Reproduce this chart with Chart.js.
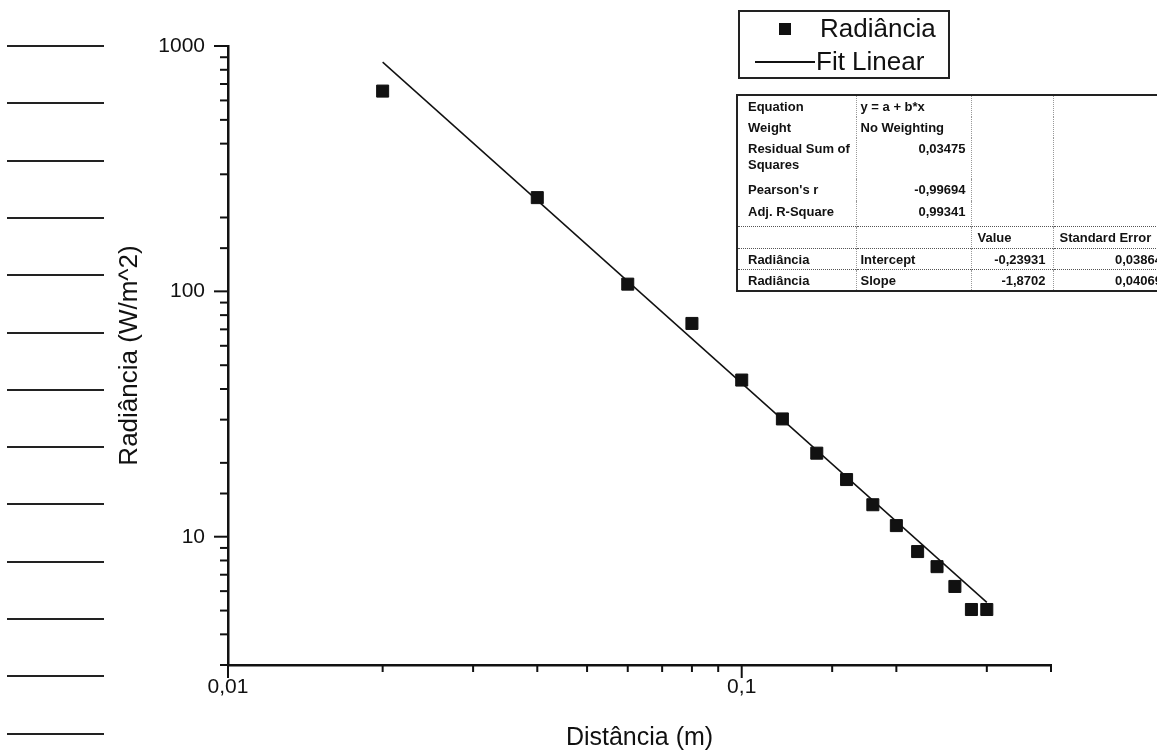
<!DOCTYPE html>
<html lang="pt">
<head>
  <meta charset="UTF-8" />
  <title>Radiância x Distância</title>
  <script src="https://cdn.jsdelivr.net/npm/chart.js"></script>
  <style>
    body {
      margin: 0;
      background: #fff;
      font-family: "Liberation Sans", Arial, sans-serif;
      overflow: hidden;
    }
    .page {
      position: relative;
      width: 1157px;
      height: 754px;
      overflow: hidden;
    }
    canvas {
      position: absolute;
      left: 0;
      top: 0;
    }
    /* ruled lines of the notebook page */
    .ruling {
      position: absolute;
      left: 7px;
      top: 45px;
      width: 97px;
      height: 700px;
      background: repeating-linear-gradient(to bottom, #222 0 2px, transparent 2px 57.3px);
    }
    .legend {
      position: absolute;
      left: 738px;
      top: 10px;
      width: 208px;
      height: 65px;
      border: 2px solid #222;
      color: #111;
      font-size: 26px;
    }
    .legend .row {
      position: absolute;
      left: 0;
      height: 30px;
      line-height: 30px;
      white-space: nowrap;
    }
    .legend .mark {
      position: absolute;
      width: 12px;
      height: 12px;
      background: #111;
    }
    .legend .line {
      position: absolute;
      height: 1.5px;
      background: #111;
    }
    .stats {
      position: absolute;
      left: 736px;
      top: 94px;
      width: 446px;
      min-width: 446px;
      border-collapse: collapse;
      border: 2px solid #222;
      font-size: 13px;
      font-weight: bold;
      color: #111;
      table-layout: fixed;
    }
    .stats td {
      padding: 3px 4px 0 4px;
      line-height: 16px;
      vertical-align: top;
      white-space: nowrap;
      overflow: hidden;
    }
    .stats td + td { border-left: 1px dotted #999; }
    .stats tr.sep td { border-top: 1px dotted #555; }
    .stats td.c1 { padding-left: 10px; }
    .stats td.num { text-align: right; }
  </style>
</head>
<body>
  <div class="page">
    <div class="ruling"></div>
    <canvas id="radChart" width="1157" height="754"></canvas>
    <div class="legend" id="legend"></div>
    <table class="stats" id="stats">
      <colgroup>
        <col style="width:119px"><col style="width:115px"><col style="width:82px"><col style="width:130px">
      </colgroup>
    </table>
  </div>

  <script>
    const distance = [0.02, 0.04, 0.06, 0.08, 0.10, 0.12, 0.14, 0.16, 0.18, 0.20, 0.22, 0.24, 0.26, 0.28, 0.30];
    const radiance = [655, 241, 107, 74, 43.5, 30.2, 21.9, 17.1, 13.5, 11.1, 8.7, 7.55, 6.27, 5.05, 5.05];

    // fit line end points
    const fitX = [0.02, 0.30];
    const fitY = [860, 5.4];

    const xTickVals = [0.01, 0.1];
    const xTickLabels = ['0,01', '0,1'];
    const yTickVals = [10, 100, 1000];
    const yTickLabels = ['10', '100', '1000'];

    const seriesNames = ['Radiância', 'Fit Linear'];

    // fit report table
    const statRows = [
      ['Equation', 'y = a + b*x', '', ''],
      ['Weight', 'No Weighting', '', ''],
      ['Residual Sum of<br>Squares', '0,03475', '', ''],
      ["Pearson's r", '-0,99694', '', ''],
      ['Adj. R-Square', '0,99341', '', ''],
      ['', '', 'Value', 'Standard Error'],
      ['Radiância', 'Intercept', '-0,23931', '0,03864'],
      ['Radiância', 'Slope', '-1,8702', '0,04069']
    ];
    const rowHeights = [22, 21, 41, 22, 25, 22, 21, 22];

    const findLabel = (v, vals, labels) => {
      const i = vals.findIndex(t => Math.abs(v - t) / t < 1e-6);
      return i < 0 ? '' : labels[i];
    };

    // table
    const table = document.getElementById('stats');
    statRows.forEach((row, r) => {
      const tr = document.createElement('tr');
      tr.style.height = rowHeights[r] + 'px';
      if (r >= 5) tr.className = 'sep';
      row.forEach((cell, c) => {
        const td = document.createElement('td');
        td.innerHTML = cell;
        if (c === 0) td.className = 'c1';
        const isNum = /^-?\d/.test(cell);
        if (isNum) td.classList.add('num');
        if (c === 1 && isNum) td.style.paddingRight = '5px';
        if (c === 2) td.style.paddingLeft = isNum ? '4px' : '6px';
        if (c === 2 && isNum) td.style.paddingRight = '7px';
        if (c === 3) td.style.paddingLeft = '6px';
        if (c === 3 && isNum) td.style.paddingRight = '20px';
        tr.appendChild(td);
      });
      table.appendChild(tr);
    });

    // legend
    const legend = document.getElementById('legend');
    legend.innerHTML = `
      <div class="mark" style="left:39px; top:11px;"></div>
      <div class="row" style="left:80px; top:1px;">${seriesNames[0]}</div>
      <div class="line" style="left:15px; width:60px; top:49px;"></div>
      <div class="row" style="left:76px; top:34px;">${seriesNames[1]}</div>
    `;

    Chart.defaults.font.family = '"Liberation Sans", Arial, sans-serif';
    Chart.defaults.color = '#111';

    const isMajor = v => Math.abs(Math.log10(v) - Math.round(Math.log10(v))) < 1e-6;

    // Origin style tick marks: long at decades, short in between
    const axisTicks = {
      id: 'axisTicks',
      afterDraw(chart) {
        const { ctx, chartArea, scales } = chart;
        ctx.save();
        ctx.strokeStyle = '#111';
        ctx.lineWidth = 2;
        scales.x.ticks.forEach(t => {
          const px = scales.x.getPixelForValue(t.value);
          const len = isMajor(t.value) ? 13 : 7;
          ctx.beginPath();
          ctx.moveTo(px, chartArea.bottom);
          ctx.lineTo(px, chartArea.bottom + len);
          ctx.stroke();
        });
        scales.y.ticks.forEach(t => {
          const py = scales.y.getPixelForValue(t.value);
          const len = isMajor(t.value) ? 14 : 8;
          ctx.beginPath();
          ctx.moveTo(chartArea.left, py);
          ctx.lineTo(chartArea.left - len, py);
          ctx.stroke();
        });
        ctx.restore();
      }
    };

    new Chart(document.getElementById('radChart'), {
      type: 'scatter',
      data: {
        datasets: [
          {
            label: seriesNames[0],
            data: distance.map((x, i) => ({ x, y: radiance[i] })),
            pointStyle: 'rect',
            pointRadius: 8.5,
            backgroundColor: '#111',
            borderColor: '#111',
            borderWidth: 1
          },
          {
            label: seriesNames[1],
            data: fitX.map((x, i) => ({ x, y: fitY[i] })),
            showLine: true,
            borderColor: '#111',
            borderWidth: 1.5,
            pointRadius: 0
          }
        ]
      },
      options: {
        responsive: false,
        animation: false,
        layout: { padding: { top: 46, right: 106, bottom: 0, left: 0 } },
        plugins: {
          legend: { display: false },
          tooltip: { enabled: false }
        },
        scales: {
          x: {
            type: 'logarithmic',
            min: 0.01,
            max: 0.4,
            afterFit: s => { s.height = 89; },
            border: { display: true, color: '#111', width: 2.5 },
            grid: { color: 'rgba(0,0,0,0)', drawOnChartArea: false, drawTicks: true, tickLength: 13 },
            ticks: {
              autoSkip: false,
              maxRotation: 0,
              padding: -3,
              font: { size: 21 },
              callback: v => findLabel(v, xTickVals, xTickLabels)
            },
            title: {
              display: true,
              text: 'Distância (m)',
              font: { size: 25 },
              padding: { top: 0, bottom: 1 }
            }
          },
          y: {
            type: 'logarithmic',
            min: 3,
            max: 1000,
            afterFit: s => { s.width = 228; },
            border: { display: true, color: '#111', width: 2.5 },
            grid: { color: 'rgba(0,0,0,0)', drawOnChartArea: false, drawTicks: true, tickLength: 14 },
            ticks: {
              autoSkip: false,
              padding: 9,
              font: { size: 21 },
              callback: v => findLabel(v, yTickVals, yTickLabels)
            },
            title: {
              display: true,
              text: 'Radiância (W/m^2)',
              font: { size: 26 },
              padding: { top: 114, bottom: 0 }
            }
          }
        }
      },
      plugins: [axisTicks]
    });
  </script>
</body>
</html>
